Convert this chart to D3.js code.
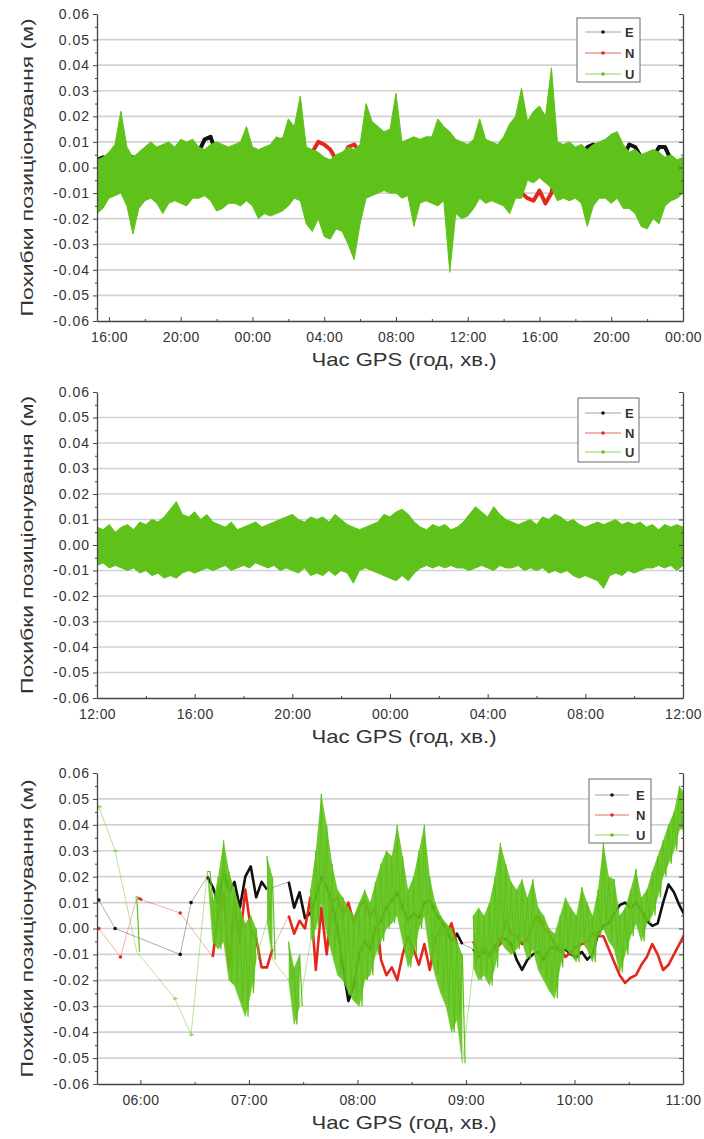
<!DOCTYPE html>
<html><head><meta charset="utf-8">
<script src="https://cdn.jsdelivr.net/npm/d3@7"></script>
<style>
body{margin:0;background:#fff;overflow:hidden;}
text{font-family:"Liberation Sans",Arial,sans-serif;}
</style></head><body>
<svg id="c" width="704" height="1139"></svg>
<script>
// ---------------- shared data ----------------
const seriesNames = ["E", "N", "U"];
const yTickValues = [-0.06,-0.05,-0.04,-0.03,-0.02,-0.01,0,0.01,0.02,0.03,0.04,0.05,0.06];
const yTickLabels = ["-0.06","-0.05","-0.04","-0.03","-0.02","-0.01","0.00","0.01","0.02","0.03","0.04","0.05","0.06"];
const yMinorValues = [-0.055,-0.045,-0.035,-0.025,-0.015,-0.005,0.005,0.015,0.025,0.035,0.045,0.055];
const gridValues = [-0.05,-0.04,-0.03,-0.02,-0.01,0,0.01,0.02,0.03,0.04,0.05];
const xTitle = "Час GPS (год, хв.)";
const yTitle = "Похибки позиціонування (м)";
const MM = 0.001; // series values below are in millimetres

// ---------------- panel 1 (hours since midnight of first day) ----------------
const p1XDomain = [15 + 20/60, 48];
const p1XTicks = [16, 20, 24, 28, 32, 36, 40, 44, 48];
const p1XTickLabels = ["16:00","20:00","00:00","04:00","08:00","12:00","16:00","20:00","00:00"];
const p1XMinor = [18, 22, 26, 30, 34, 38, 42, 46];
const p1Start = 15 + 20/60, p1Step = 20/60;
const p1Uhi = [3,4, 6,9,22, 8,4,6, 8,10,8, 9,10,8, 11,10,11, 8,7,9, 10,9,8, 9,10,16,
  8,7,8, 9,12,11, 19,16,28, 8,7,6, 4,3,5, 6,8,7, 9,25,18, 16,14,15, 29,10,11,
  12,11,12, 12,19,16, 14,11,10, 9,11,19, 11,10,9, 12,17,20, 31,18,22, 24,20,39,
  10,9,10, 8,9,7, 9,10,11, 13,14,9, 6,7,5, 6,7,6, 4,5,3, 4];
const p1Ulo = [-18,-16, -12,-11,-10, -15,-26,-16, -13,-12,-14, -18,-14,-13, -14,-15,-12,
  -12,-11,-13, -17,-16,-14, -14,-15,-13, -15,-20,-18, -19,-18,-17, -15,-12,-13,
  -22,-25,-20, -27,-28,-24, -25,-30,-36, -22,-12,-11, -10,-9,-10, -10,-12,-11,
  -23,-14,-13, -14,-15,-13, -41,-18,-20, -19,-16,-12, -14,-13,-14, -15,-18,-12,
  -12,-5,-6, -4,-6,-8, -13,-12,-13, -12,-14,-23, -15,-12,-12, -14,-12,-16,
  -16,-18,-23, -24,-20,-22, -15,-13,-12, -10];
const p1E = [3,4, 3,2,2, 4,4,3, 3,2,4, 4,2,1, 2,3,5, 6,11,12, 5,3,2, 2,1,0,
  0,1,0, 1,0,-1, -3,0,1, 1,2,1, 0,1,2, 1,-1,0, -2,0,1, 1,2,1, 2,1,0,
  -2,-5,-4, 0,1,2, 1,2,3, 6,9,8, 10,6,4, 3,2,3, 4,5,3, 4,5,3,
  2,1,2, 3,2,8, 9,7,3, 2,3,4, 9,8,4, 3,4,8, 8,3,2, 2];
const p1N = [-2,-1, -2,-3,-2, -7,-9,-4, -2,-3,-2, -1,-2,-3, -2,-1,-3, -5,-7,-9,
  -3,-1,0, -2,-5,-1, 0,1,0, 2,9,11, 4,2,1, 2,6,10, 9,7,3, 2,8,9, 6,3,2,
  1,2,3, 2,1,2, 1,2,3, 5,9,7, 4,5,4, 3,5,4, 2,-1,-3, -6,-9,-8, -10,-12,-13,
  -9,-14,-10, 5,6,4, 3,2,4, 1,-6,-9, -11,-8,-4, 1,-3,-6, -5,-2,-1, -3,-4,-2, -2];

// ---------------- panel 2 ----------------
const p2XDomain = [12, 36];
const p2XTicks = [12, 16, 20, 24, 28, 32, 36];
const p2XTickLabels = ["12:00","16:00","20:00","00:00","04:00","08:00","12:00"];
const p2XMinor = [14, 18, 22, 26, 30, 34];
const p2Start = 12, p2StepU = 15/60, p2StepEN = 20/60;
const p2Uhi = [7,6,8,5, 7,8,6,9, 8,10,9,11, 14,17,12,11, 13,10,12,9, 8,7,9,6,
  7,8,9,7, 8,9,10,11, 12,10,9,11, 10,11,9,12, 10,8,7,6, 7,8,9,12,
  11,13,14,12, 9,7,6,8, 7,8,6,7, 9,12,15,13, 11,15,12,10, 9,8,9,10,
  8,11,10,12, 11,9,10,8, 7,8,9,8, 9,10,8,9, 8,9,7,8, 6,8,7,8, 7];
const p2Ulo = [-8,-7,-9,-8, -9,-10,-9,-11, -10,-12,-11,-13, -12,-13,-11,-10,
  -11,-10,-9,-10, -9,-8,-10,-9, -8,-9,-7,-8, -9,-8,-10,-9, -10,-11,-9,-12,
  -11,-12,-10,-12, -10,-11,-15,-10, -9,-10,-11,-12, -13,-14,-12,-14,
  -11,-9,-8,-9, -8,-9,-8,-9, -9,-10,-9,-8, -9,-10,-8,-9, -9,-8,-10,-9,
  -10,-9,-11,-10, -11,-10,-12,-13, -12,-13,-14,-17, -12,-11,-12,-10,
  -11,-10,-9,-9, -8,-9,-8,-10, -8];
const p2E = [1,3,3, 3,2,1, 1,0,1, 1,2,1, 0,1,0, 1,2,3, 2,1,0, 1,0,1, 0,-1,0,
  1,2,1, 2,1,0, 0,1,0, 1,0,-1, 0,1,2, 1,0,1, 1,0,-1, -2,-1,0, 0,1,0,
  1,0,1, 0,-1,0, 0,1,0, 1,0,1, 0,1,2, 1,2,1, 1];
const p2N = [-1,0,-1, 0,-1,-2, -1,-2,-2, -3,-5,-6, -8,-7,-4, -2,-1,-2, -1,-2,-3,
  -4,-5,-3, -4,-2,-1, 0,1,3, 2,1,-1, -2,-1,0, 0,-1,-2, -1,0,-1, -2,-1,-2,
  -3,-4,-3, -4,-3,-2, -2,-3,-4, -5,-4,-5, -4,-5,-3, -2,-1,-2, -1,0,-1,
  0,1,0, 2,1,0, 0];

// ---------------- panel 3 (3-minute grid from 05:37) ----------------
const p3XDomain = [5.6, 11.0];
const p3XTicks = [6, 7, 8, 9, 10, 11];
const p3XTickLabels = ["06:00","07:00","08:00","09:00","10:00","11:00"];
const p3XMinor = [6.5, 7.5, 8.5, 9.5, 10.5];
const p3Start = 5 + 37/60, p3Step = 3/60;
const p3E = [11,null,null,0,null,null,null,null,null,null,
  null,null,null,null,null,-10,null,10,null,null,
  20,16,10,22,14,18,8,20,24,12,
  18,15,null,null,null,18,8,14,4,6,
  12,20,16,10,0,-15,-28,-22,-10,-5,
  -8,0,3,8,11,14,8,3,6,4,
  10,11,6,3,0,-5,-2,-6,null,-8,
  -11,-9,-10,-7,-4,-4,-6,-12,-16,-12,
  -10,-9,-12,-8,-7,-9,-8,-10,-11,-9,
  -12,-10,-2,1,2,6,9,10,8,10,
  7,3,1,2,10,17,14,9,5];
const p3N = [0,null,null,null,-11,null,null,12,11,null,
  null,null,null,null,null,6,null,null,null,null,
  null,-11,5,14,-15,10,-5,15,0,-4,
  -15,-15,-8,null,null,5,-2,3,0,12,
  -16,8,-10,10,12,5,10,2,8,11,
  4,9,-12,-18,-15,-20,-10,-3,-8,-14,
  -6,-16,-4,0,-3,2,-6,null,null,-5,
  -10,-7,-11,-8,-6,3,-2,-3,-6,-4,
  2,5,0,-2,-6,-8,-11,-9,-7,-6,
  -5,-2,-3,-3,-8,-13,-18,-21,-19,-18,
  -14,-11,-6,-10,-16,-14,-10,-6,-2];
const p3Uhi = [47,null,null,30,null,null,null,12,null,null,
  null,null,null,null,-27,null,null,-41,null,null,
  22,10,20,34,22,15,8,2,5,0,
  null,28,20,null,null,-5,-15,-10,null,15,
  30,52,40,25,15,12,8,5,10,15,
  10,18,25,30,28,40,28,15,20,30,
  40,20,10,5,2,0,-5,-10,null,5,
  8,5,10,20,33,25,18,15,19,12,
  19,8,5,0,-2,5,12,8,5,16,
  10,5,15,33,20,19,5,8,15,23,
  12,15,22,28,34,40,45,55,52];
const p3Ulo = [47,null,null,30,null,null,null,-9,null,null,
  null,null,null,null,-27,null,null,-41,null,null,
  22,-5,-8,-5,-20,-22,-28,-34,-25,-12,
  null,3,-12,null,null,-20,-37,-30,null,-5,
  0,10,-2,-10,-18,-20,-25,-28,-30,-20,
  -18,-10,-5,0,2,5,-5,-15,-10,0,
  5,-10,-18,-25,-30,-40,-35,-52,null,-15,
  -20,-18,-22,-15,-5,-8,-10,-8,-5,-12,
  -8,-16,-20,-24,-27,-15,-8,-10,-13,-5,
  -8,-13,-3,0,-5,-8,-17,-10,-3,2,
  -5,2,5,12,20,25,30,38,40];

// ---------------- styling / layout ----------------
const colors = {E: "#111111", N: "#e3281b", U: "#5fc21a"};
const plotLeft = 97, plotRight = 683;
const svg = d3.select("#c");

function isolated(arr, i) {
  return arr[i] != null && (i === 0 || arr[i-1] == null) && (i === arr.length-1 || arr[i+1] == null);
}

function drawBands(plot, x, y, d) {
  [[d.E, colors.E], [d.N, colors.N]].forEach(([vals, col]) => {
    plot.append("path").datum(vals)
      .attr("d", d3.line().x((v, i) => x(d.start + i * d.stepEN)).y(v => y(v * MM)))
      .attr("fill", "none").attr("stroke", col).attr("stroke-width", d.enWidth)
      .attr("stroke-linejoin", "round");
  });
  plot.append("path").datum(d3.range(d.Uhi.length))
    .attr("d", d3.area().x(i => x(d.start + i * d.stepU))
      .y0(i => y(d.Ulo[i] * MM)).y1(i => y(d.Uhi[i] * MM)))
    .attr("fill", colors.U)
    .attr("stroke", colors.U).attr("stroke-width", 1).attr("stroke-linejoin", "miter");
}

function drawP3(plot, x, y) {
  const tx = i => x(p3Start + i * p3Step);
  const conn = (vals, col, op) => {
    const pts = vals.map((v, i) => [i, v]).filter(p => p[1] != null);
    plot.append("path").datum(pts)
      .attr("d", d3.line().x(p => tx(p[0])).y(p => y(p[1] * MM)))
      .attr("fill", "none").attr("stroke", col).attr("stroke-width", 0.8).attr("stroke-opacity", op);
  };
  conn(p3E, "#555", 0.6);
  conn(p3N, colors.N, 0.45);
  conn(p3Ulo, colors.U, 0.55);
  [[p3E, colors.E], [p3N, colors.N]].forEach(([vals, col]) => {
    plot.append("path").datum(vals)
      .attr("d", d3.line().defined(v => v != null).x((v, i) => tx(i)).y(v => y(v * MM)))
      .attr("fill", "none").attr("stroke", col).attr("stroke-width", 2.6).attr("stroke-linejoin", "round");
    plot.append("g").selectAll("circle").data(d3.range(vals.length).filter(i => isolated(vals, i))).join("circle")
      .attr("cx", i => tx(i)).attr("cy", i => y(vals[i] * MM)).attr("r", 1.8).attr("fill", col);
  });
  // U: filled envelope of each 3-minute slot plus a zig-zag between its extremes
  plot.append("path").datum(d3.range(p3Uhi.length))
    .attr("d", d3.area().defined(i => p3Uhi[i] != null).x(i => tx(i))
      .y0(i => y(p3Ulo[i] * MM)).y1(i => y(p3Uhi[i] * MM)))
    .attr("fill", colors.U).attr("fill-opacity", 0.9);
  const zz = [];
  p3Uhi.forEach((h, i) => {
    if (h == null) { zz.push(null); return; }
    zz.push([i, h]);
    zz.push([i + 0.5, p3Ulo[i]]);
  });
  plot.append("path").datum(zz)
    .attr("d", d3.line().defined(p => p != null).x(p => tx(p[0])).y(p => y(p[1] * MM)))
    .attr("fill", "none").attr("stroke", colors.U).attr("stroke-width", 1.2).attr("stroke-linejoin", "miter");
  const isoU = d3.range(p3Uhi.length).filter(i => isolated(p3Uhi, i));
  plot.append("g").selectAll("circle").data(isoU).join("circle")
    .attr("cx", i => tx(i)).attr("cy", i => y(p3Uhi[i] * MM)).attr("r", 1.6).attr("fill", "#9ad86a");
}

function drawLegend(L) {
  const g = svg.append("g");
  g.append("rect").attr("x", L.x0).attr("y", L.y0).attr("width", L.x1 - L.x0).attr("height", L.y1 - L.y0)
    .attr("fill", "#fff").attr("stroke", "#6b6b6b").attr("stroke-width", 1);
  seriesNames.forEach((name, i) => {
    const yy = L.rows[i];
    g.append("line").attr("x1", L.lx0).attr("x2", L.lx1).attr("y1", yy).attr("y2", yy)
      .attr("stroke", name === "E" ? "#777" : colors[name]).attr("stroke-width", 1).attr("stroke-opacity", 0.7);
    g.append("circle").attr("cx", (L.lx0 + L.lx1) / 2).attr("cy", yy).attr("r", 1.8).attr("fill", colors[name]);
    g.append("text").attr("x", L.tx).attr("y", yy).attr("dy", "0.36em")
      .attr("font-size", 13).attr("font-weight", "bold").attr("fill", "#333").text(name);
  });
}

function drawPanel(p) {
  const x = d3.scaleLinear().domain(p.xDomain).range([plotLeft, plotRight]);
  const y = d3.scaleLinear().domain([-0.06, 0.06]).range([p.bottom, p.top]);
  const g = svg.append("g");
  svg.append("clipPath").attr("id", "clip" + p.id).append("rect")
    .attr("x", plotLeft).attr("y", p.top).attr("width", plotRight - plotLeft).attr("height", p.bottom - p.top);
  g.append("g").selectAll("line").data(gridValues).join("line")
    .attr("x1", plotLeft).attr("x2", plotRight).attr("y1", d => y(d)).attr("y2", d => y(d))
    .attr("stroke", "#d2d2d2").attr("stroke-width", 1.6);
  const plot = g.append("g").attr("clip-path", `url(#clip${p.id})`);
  p.draw(plot, x, y);

  const styleAxis = sel => {
    sel.select(".domain").attr("stroke", "#444").attr("stroke-width", 1.3);
    sel.selectAll(".tick line").attr("stroke", "#444").attr("stroke-width", 1);
  };
  g.append("g").attr("transform", `translate(${plotLeft},0)`)
    .call(d3.axisLeft(y).tickValues(yTickValues).tickFormat((d, i) => yTickLabels[i])
      .tickSizeInner(4).tickSizeOuter(0).tickPadding(3))
    .call(styleAxis)
    .call(s => s.selectAll("text").attr("font-size", 14).attr("fill", "#333")
      .style("letter-spacing", "1px").style("font-family", "'Liberation Sans',Arial,sans-serif"));
  g.append("g").attr("transform", `translate(${plotLeft},0)`)
    .call(d3.axisLeft(y).tickValues(yMinorValues).tickFormat("").tickSize(2))
    .call(s => s.select(".domain").remove()).call(styleAxis);
  g.append("g").attr("transform", `translate(${plotRight},0)`)
    .call(d3.axisLeft(y).tickValues(yTickValues).tickFormat("").tickSizeInner(4).tickSizeOuter(0))
    .call(styleAxis);
  g.append("g").attr("transform", `translate(${plotRight},0)`)
    .call(d3.axisLeft(y).tickValues(yMinorValues).tickFormat("").tickSize(2))
    .call(s => s.select(".domain").remove()).call(styleAxis);
  g.append("g").attr("transform", `translate(0,${p.bottom})`)
    .call(d3.axisBottom(x).tickValues(p.xTicks).tickFormat((d, i) => p.xTickLabels[i])
      .tickSizeInner(-4).tickSizeOuter(0).tickPadding(11))
    .call(styleAxis)
    .call(s => s.selectAll("text").attr("font-size", 14).attr("fill", "#333")
      .style("letter-spacing", "0.4px").style("font-family", "'Liberation Sans',Arial,sans-serif"));
  g.append("g").attr("transform", `translate(0,${p.bottom})`)
    .call(d3.axisBottom(x).tickValues(p.xMinor).tickFormat("").tickSize(-2))
    .call(s => s.select(".domain").remove()).call(styleAxis);

  svg.append("text").attr("transform", `translate(27,${(p.top + p.bottom) / 2}) rotate(-90)`)
    .attr("text-anchor", "middle").attr("dominant-baseline", "central")
    .attr("font-size", 17).attr("fill", "#333")
    .attr("textLength", 298).attr("lengthAdjust", "spacingAndGlyphs").text(yTitle);
  svg.append("text").attr("x", 404).attr("y", p.bottom + 45)
    .attr("text-anchor", "middle").attr("font-size", 18.5).attr("fill", "#333")
    .attr("textLength", 185).attr("lengthAdjust", "spacingAndGlyphs").text(xTitle);

  drawLegend(p.legend);
}

const panels = [
  {id: 1, top: 14, bottom: 321, xDomain: p1XDomain, xTicks: p1XTicks, xTickLabels: p1XTickLabels, xMinor: p1XMinor,
   draw: (pl, x, y) => drawBands(pl, x, y, {start: p1Start, stepU: p1Step, stepEN: p1Step, Uhi: p1Uhi, Ulo: p1Ulo, E: p1E, N: p1N, enWidth: 4}),
   legend: {x0: 577, x1: 640, y0: 18, y1: 82, rows: [32, 53, 74], lx0: 585, lx1: 621, tx: 625}},
  {id: 2, top: 392, bottom: 698, xDomain: p2XDomain, xTicks: p2XTicks, xTickLabels: p2XTickLabels, xMinor: p2XMinor,
   draw: (pl, x, y) => drawBands(pl, x, y, {start: p2Start, stepU: p2StepU, stepEN: p2StepEN, Uhi: p2Uhi, Ulo: p2Ulo, E: p2E, N: p2N, enWidth: 3.5}),
   legend: {x0: 578, x1: 639, y0: 398, y1: 462, rows: [413, 433, 452], lx0: 585, lx1: 621, tx: 625}},
  {id: 3, top: 773, bottom: 1084, xDomain: p3XDomain, xTicks: p3XTicks, xTickLabels: p3XTickLabels, xMinor: p3XMinor,
   draw: drawP3,
   legend: {x0: 589, x1: 651, y0: 779, y1: 843, rows: [795, 815, 835], lx0: 595, lx1: 629, tx: 636}}
];
panels.forEach(drawPanel);
</script>
</body></html>
